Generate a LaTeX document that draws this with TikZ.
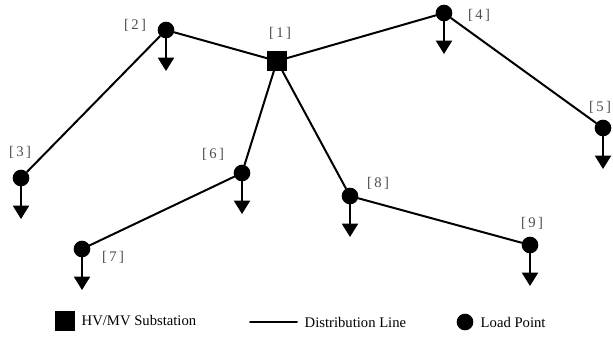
\documentclass[tikz,border=0pt]{standalone}
\usepackage{fontspec}
\setmainfont{Liberation Serif}
\usetikzlibrary{arrows.meta}
\begin{document}
\begin{tikzpicture}[x=0.75pt, y=-0.75pt, font=\fontsize{11}{13}\selectfont, line join=round, line cap=round, >={Triangle[width=12pt,length=10pt]},
	load/.style={circle, fill, inner sep=0pt, minimum size=12.5pt},
	sub/.style={rectangle, fill, inner sep=0pt, minimum size=14.5pt},
	lab/.style={text=black!70},
	wire/.style={line width=1.5pt}]
	\useasboundingbox (0,0) rectangle (613,337);
	% buses
	\node[sub] (n1) at (277,61) {};
	\node[load] (n2) at (166,30) {};
	\node[load] (n3) at (21,178) {};
	\node[load] (n4) at (444,13) {};
	\node[load] (n5) at (603,128) {};
	\node[load] (n6) at (242,173) {};
	\node[load] (n7) at (82,249) {};
	\node[load] (n8) at (350,196) {};
	\node[load] (n9) at (530,245) {};
	% bus numbers
	\foreach \i/\x/\y in {1/280/33,2/135/25,3/20/152,4/479/15,5/600/107,6/213/154,7/113/257,8/378/183,9/532/223}
		\node[lab] (l\i) at (\x,\y) {[\,\i\,]};
	% lines
	\draw[wire] (n1)--(n2) (n2)--(n3) (n1)--(n4) (n4)--(n5) (n1)--(n6) (n6)--(n7) (n1)--(n8) (n8)--(n9);
	% loads
	\foreach \i in {2,...,9} \draw[wire,->] (n\i.center)--++(0,41);
	% legend
	\node[sub] (ksub) at (65,321) {};
	\node[anchor=west] (tsub) at (77,321) {HV/MV Substation};
	\coordinate (kla) at (250,322);
	\coordinate (klb) at (297,322);
	\draw[wire] (kla)--(klb);
	\node[anchor=west] (tline) at (300,322) {Distribution Line};
	\node[load] (kload) at (465,322) {};
	\node[anchor=west] (tload) at (476,322) {Load Point};
\end{tikzpicture}
\end{document}
